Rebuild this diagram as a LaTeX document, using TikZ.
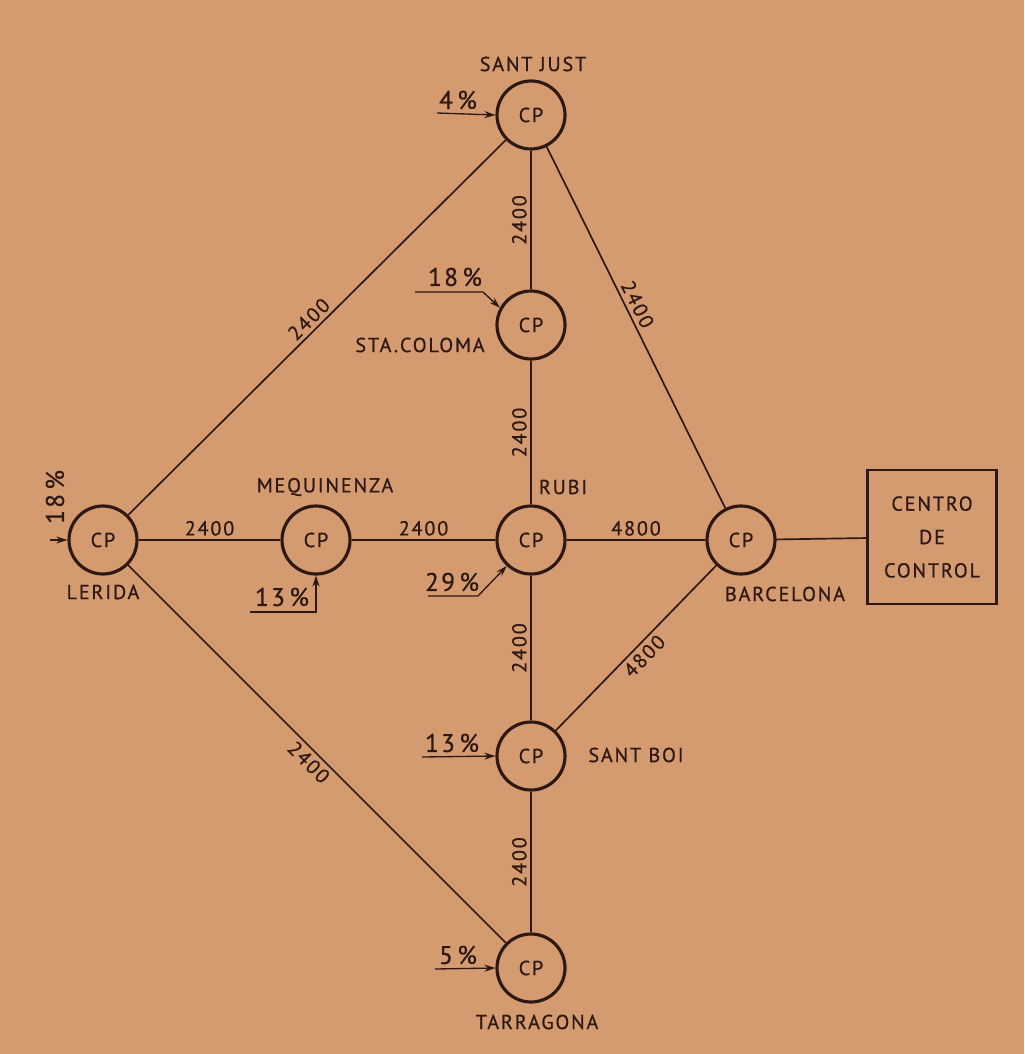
\documentclass[tikz,border=0pt]{standalone}
\usepackage{fontspec}
\setmainfont[LetterSpace=9,FakeBold=0.6]{PT Sans}
\usetikzlibrary{arrows.meta}
\definecolor{paper}{RGB}{212,154,112}
\definecolor{ink}{RGB}{46,24,18}

\begin{document}
\begin{tikzpicture}[x=0.02cm,y=-0.02cm,
  every node/.style={text=ink,font=\fontsize{11.5}{13}\selectfont},
  cp/.style={circle,draw=ink,line width=1.8pt,minimum size=1.36cm,inner sep=0pt},
  link/.style={draw=ink,line width=0.95pt},
  feed/.style={draw=ink,line width=0.75pt,-{Stealth[length=2.2mm,width=1.4mm]}},
  rate/.style={inner sep=2pt},
  pct/.style={font=\fontsize{14.5}{16}\selectfont,inner sep=0pt}]
\fill[paper] (0,0) rectangle (1024,1054);
% centros de proceso
\node[cp] (sj) at (531,115) {CP};
\node[cp] (sc) at (531,325) {CP};
\node[cp] (ru) at (531,540) {CP};
\node[cp] (le) at (103,540) {CP};
\node[cp] (me) at (316,540) {CP};
\node[cp] (ba) at (741,540) {CP};
\node[cp] (sb) at (531,756) {CP};
\node[cp] (ta) at (531,968) {CP};
\node[draw=ink,line width=1.4pt,minimum width=2.58cm,minimum height=2.68cm,
  align=center,font=\fontsize{11.5}{19}\selectfont] (cc) at (932,537) {CENTRO\\DE\\CONTROL};
% nombres
\node (n_sj) at (533,64) {SANT JUST};
\node (n_sc) at (420,345) {STA.COLOMA};
\node (n_me) at (325,487) {MEQUINENZA};
\node (n_ru) at (563,487) {RUBI};
\node (n_le) at (103,592) {LERIDA};
\node (n_ba) at (785,594) {BARCELONA};
\node (n_sb) at (636,755) {SANT BOI};
\node (n_ta) at (537,1022) {TARRAGONA};
% lineas
\draw[link] (le) -- node[rate,sloped,above] {2400} (sj);
\draw[link] (le) -- node[rate,above] {2400} (me);
\draw[link] (me) -- node[rate,above] {2400} (ru);
\draw[link] (ru) -- node[rate,above] {4800} (ba);
\draw[link] (ba) -- (cc);
\draw[link] (sc) -- node[rate,sloped,above] {2400} (sj);
\draw[link] (ru) -- node[rate,sloped,above] {2400} (sc);
\draw[link] (sb) -- node[rate,sloped,above] {2400} (ru);
\draw[link] (ta) -- node[rate,sloped,above] {2400} (sb);
\draw[link] (sj) -- node[rate,sloped,above,pos=0.45] {2400} (ba);
\draw[link] (sb) -- node[rate,sloped,below] {4800} (ba);
\draw[link] (le) -- node[rate,sloped,below] {2400} (ta);
% trafico
\node[pct] (p_sj) at (458,100) {4\,\%};
\node[pct] (p_sc) at (455,277) {18\,\%};
\node[pct,rotate=90] (p_le) at (55,497) {18\,\%};
\node[pct] (p_me) at (282,597) {13\,\%};
\node[pct] (p_ru) at (452,582) {29\,\%};
\node[pct] (p_sb) at (452,743) {13\,\%};
\node[pct] (p_ta) at (458,955) {5\,\%};
\coordinate (f_sj) at (437,113);
\coordinate (f_sc) at (415,292);
\coordinate (f_le) at (50,540);
\coordinate (f_me) at (250,612);
\coordinate (f_ru) at (428,596);
\coordinate (f_sb) at (422,757);
\coordinate (f_ta) at (435,969);
\draw[feed] (f_sj) -- (sj.west);
\draw[feed] (f_sc) -- ++(68,0) -- (sc.151);
\draw[feed] (f_le) -- (le.west);
\draw[feed] (f_me) -- ++(66,0) -- (me.south);
\draw[feed] (f_ru) -- ++(50,0) -- (ru.227);
\draw[feed] (f_sb) -- (sb.west);
\draw[feed] (f_ta) -- (ta.west);
\end{tikzpicture}
\end{document}
